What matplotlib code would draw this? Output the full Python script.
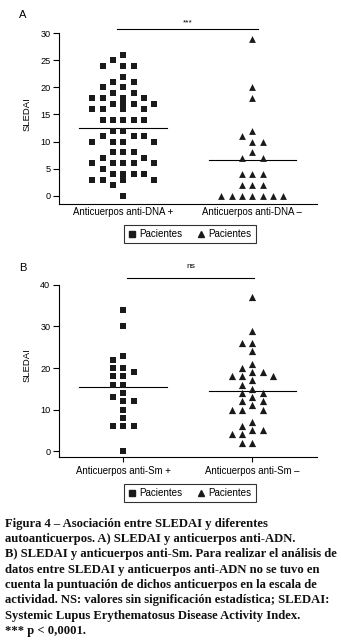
import numpy as np
import matplotlib.pyplot as plt
from matplotlib.lines import Line2D

plt.rcParams['font.family'] = ['Liberation Sans', 'DejaVu Sans']

# Panel A: SLEDAI segun anticuerpos anti-DNA
grupos_a = ['Anticuerpos anti-DNA +', 'Anticuerpos anti-DNA –']
sledai_dna_pos = [26, 25, 24, 24, 24, 22, 21, 21, 20, 20, 19, 19,
                  18, 18, 18, 18, 17, 17, 17, 17, 17, 16, 16, 16, 16,
                  14, 14, 14, 14, 14, 12, 12, 11, 11, 11,
                  10, 10, 10, 10, 10, 10, 8, 8, 8, 7, 7,
                  6, 6, 6, 6, 6, 5, 4, 4, 4, 4, 3, 3, 3, 3, 2, 0]
sledai_dna_neg = [29, 20, 18, 12, 11, 10, 10, 8, 7, 7, 4, 4, 4,
                  2, 2, 2, 0, 0, 0, 0, 0, 0, 0]

# Panel B: SLEDAI segun anticuerpos anti-Sm
grupos_b = ['Anticuerpos anti-Sm +', 'Anticuerpos anti-Sm –']
sledai_sm_pos = [34, 30, 23, 22, 20, 20, 19, 18, 18, 16, 16, 14, 13,
                 12, 12, 10, 8, 6, 6, 6, 0]
sledai_sm_neg = [37, 29, 26, 26, 24, 21, 20, 19, 19, 18, 18, 18, 17, 16,
                 15, 14, 14, 13, 12, 12, 11, 10, 10, 10, 7, 6, 5, 5,
                 4, 4, 2, 2]

yticks_a = [0, 5, 10, 15, 20, 25, 30]
yticks_b = [0, 10, 20, 30, 40]

caption = [
    'Figura 4 – Asociación entre SLEDAI y diferentes',
    'autoanticuerpos. A) SLEDAI y anticuerpos anti-ADN.',
    'B) SLEDAI y anticuerpos anti-Sm. Para realizar el análisis de',
    'datos entre SLEDAI y anticuerpos anti-ADN no se tuvo en',
    'cuenta la puntuación de dichos anticuerpos en la escala de',
    'actividad. NS: valores sin significación estadística; SLEDAI:',
    'Systemic Lupus Erythematosus Disease Activity Index.',
    '*** p < 0,0001.',
]

W, H = 341, 643
PX_X = 129.0  # pixels per group unit on x


def swarm(vals, px_y, h=7.0, col=10.3, w=8.0, maxc=3):
    # greedy beeswarm (pixel space): fewest overlaps, whole columns first
    vals = np.asarray(vals, float)
    xs = np.zeros(len(vals))
    placed = []
    cands = []
    for k in np.arange(0, maxc + 0.01, 0.5):
        for c in ([0.0] if k == 0 else [-k, k]):
            cands.append(c)
    cands.sort(key=lambda c: (c % 1 != 0, abs(c), c > 0))
    for i in np.argsort(-vals, kind='stable'):
        y = vals[i] * px_y
        best, best_pen = 0.0, None
        for c in cands:
            x = c * col
            pen = sum(1 for px, py in placed if abs(x - px) < w and abs(y - py) < h)
            if best_pen is None or pen < best_pen:
                best, best_pen = c, pen
            if pen == 0:
                break
        placed.append((best * col, y))
        xs[i] = best * col / PX_X
    return xs


def panel(ax, g1, g2, px_y, ms, ylim, yticks, labels, sig_y, sig_x, sig_txt, txt_y, ticks_x):
    for pos, vals, m, s in [(1, g1, 's', ms[0]), (2, g2, '^', ms[1])]:
        xs = pos + swarm(vals, px_y)
        ax.scatter(xs, vals, marker=m, s=s, color='#1a1a1a', lw=0, zorder=3)
        mu = np.mean(vals)
        ax.plot([pos - 0.34, pos + 0.34], [mu, mu], color='black', lw=0.8)
    ax.plot(sig_x, [sig_y, sig_y], color='black', lw=0.8, clip_on=False)
    ax.text(np.mean(sig_x), txt_y, sig_txt, ha='center', va='center', fontsize=6)
    ax.set_xlim(0.5, 2.5)
    ax.set_ylim(*ylim)
    ax.set_yticks(yticks)
    ax.set_xticks([1, 2])
    ax.set_xticklabels(labels, fontsize=6.9)
    ax.tick_params(axis='y', length=4, width=0.8, pad=2, labelsize=6.6)
    ax.tick_params(axis='x', length=3.5 if ticks_x else 0, width=0.8, pad=2.5)
    for sp in ['top', 'right']:
        ax.spines[sp].set_visible(False)
    for sp in ['left', 'bottom']:
        ax.spines[sp].set_linewidth(0.8)
    ax.spines['left'].set_bounds(ylim[0], yticks[-1])
    ax.set_ylabel('SLEDAI', fontsize=6.8, labelpad=6)


def legend(fig, ax, cy):
    hs = [Line2D([], [], marker='s', ls='none', color='#1a1a1a', ms=4.6),
          Line2D([], [], marker='^', ls='none', color='#1a1a1a', ms=5)]
    lg = ax.legend(hs, ['Pacientes', 'Pacientes'], ncol=2, loc='center',
                   bbox_to_anchor=(190 / W, 1 - cy / H), bbox_transform=fig.transFigure,
                   fontsize=7.1, frameon=True, fancybox=False, edgecolor='black',
                   handlelength=0.8, handletextpad=0.35, columnspacing=1.5,
                   borderpad=0.4, borderaxespad=0)
    lg.get_frame().set_linewidth(0.8)


fig = plt.figure(figsize=(W / 100, H / 100), dpi=100)

# panel A: y=0 at 196px, 5.43 px per unit, x-axis at 204px
axA = fig.add_axes([58.7 / W, 1 - 204 / H, 258.3 / W, 179 / H])
panel(axA, sledai_dna_pos, sledai_dna_neg, 5.43, (20, 24), (-1.5, 31.5), yticks_a,
      grupos_a, 30.7, [0.953, 2.047], '***', 31.9, False)
legend(fig, axA, 234)
fig.text(23 / W, 1 - 15 / H, 'A', fontsize=8, ha='center', va='center')

# panel B: y=0 at 451px, 4.15 px per unit, x-axis at 457px
axB = fig.add_axes([58.7 / W, 1 - 457.3 / H, 258.3 / W, 184.8 / H])
panel(axB, sledai_sm_pos, sledai_sm_neg, 4.15, (24, 27), (-1.5, 43), yticks_b,
      grupos_b, 41.7, [1.03, 2.016], 'ns', 44.4, True)
legend(fig, axB, 493)
fig.text(23 / W, 1 - 268 / H, 'B', fontsize=8, ha='center', va='center')

for i, line in enumerate(caption):
    fig.text(5 / W, 1 - (523.5 + i * 15.4) / H, line, fontsize=9.1, ha='left',
             va='center', family='Liberation Serif', weight='bold', color='#111111')

fig.savefig('out.png', dpi=100, facecolor='white')
